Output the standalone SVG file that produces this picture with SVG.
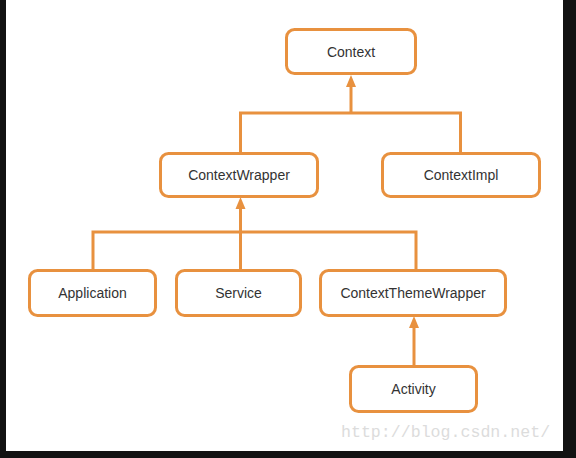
<svg xmlns="http://www.w3.org/2000/svg" width="576" height="458" viewBox="0 0 576 458">
<style>
.box{fill:#fff;stroke:#e8913f;stroke-width:3}
.lbl{font-family:"Liberation Sans",Arial,sans-serif;font-size:14px;fill:#333;text-anchor:middle}
.ln{fill:none;stroke:#e8913f;stroke-width:3}
</style>
<defs>
<marker id="ah" markerWidth="10" markerHeight="10" refX="5" refY="9" orient="auto-start-reverse" markerUnits="userSpaceOnUse" viewBox="0 0 10 10">
<path d="M5,0 L10,10 L0,10 Z" fill="#e8913f" transform="rotate(0)"/>
</marker>
</defs>
<rect width="576" height="458" fill="#fff"/>
<g id="connectors">
<path class="ln" d="M240.5,152 V113 H460.5 V152"/>
<path class="ln" d="M351,113 V86"/>
<path d="M351,75 L356,87 L346,87 Z" fill="#e8913f"/>
<path class="ln" d="M93,270 V232 H416 V270"/>
<path class="ln" d="M240.5,270 V208"/>
<path d="M240.5,197 L245.5,209 L235.5,209 Z" fill="#e8913f"/>
<path class="ln" d="M414,366 V327"/>
<path d="M414,316 L419,328 L409,328 Z" fill="#e8913f"/>
</g>
<g id="context"><rect class="box" x="286.5" y="29.5" width="129" height="44" rx="8"/><text class="lbl" x="351" y="56.5">Context</text></g>
<g id="contextwrapper"><rect class="box" x="160.5" y="153.5" width="157" height="43" rx="8"/><text class="lbl" x="239" y="179.5">ContextWrapper</text></g>
<g id="contextimpl"><rect class="box" x="382.5" y="153.5" width="157" height="43" rx="8"/><text class="lbl" x="461" y="179.5">ContextImpl</text></g>
<g id="application"><rect class="box" x="29.5" y="270.5" width="126" height="45" rx="8"/><text class="lbl" x="92.5" y="297.5">Application</text></g>
<g id="service"><rect class="box" x="176.5" y="270.5" width="124" height="45" rx="8"/><text class="lbl" x="238.5" y="297.5">Service</text></g>
<g id="contextthemewrapper"><rect class="box" x="320.5" y="270.5" width="185" height="45" rx="8"/><text class="lbl" x="413" y="297.5">ContextThemeWrapper</text></g>
<g id="activity"><rect class="box" x="350.5" y="366.5" width="126" height="45" rx="8"/><text class="lbl" x="413.5" y="393.5">Activity</text></g>
<text x="341" y="437" font-family="Liberation Mono,monospace" font-size="16.6" fill="#dcdcdc">http://blog.csdn.net/</text>
<rect x="0" y="0" width="6" height="458" fill="#121212"/>
<rect x="563" y="0" width="13" height="458" fill="#121212"/>
<rect x="0" y="451" width="576" height="7" fill="#121212"/>
</svg>
